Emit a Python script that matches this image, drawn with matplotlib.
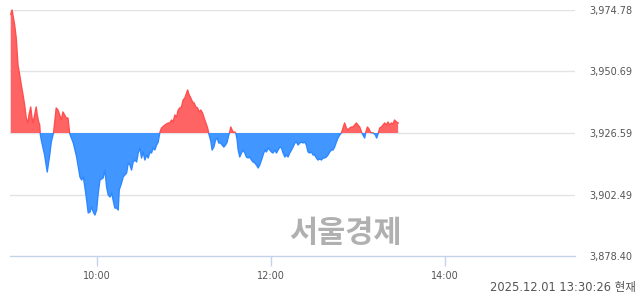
import numpy as np
import matplotlib
matplotlib.use("Agg")
import matplotlib.pyplot as plt
from matplotlib.patches import Rectangle

# minutes since 09:00
minutes = [0.5, 1.4, 3.2, 4.3, 5.5, 6.7, 7.8, 9.0, 10.1, 11.2, 12.4, 13.1, 14.3, 15.2, 15.9, 17.0,
           18.1, 18.8, 19.8, 20.5, 20.9, 21.6, 23.9, 25.7, 27.4, 28.5, 30.1, 31.9, 33.1, 34.3,
           35.4, 36.6, 37.7, 38.8, 40.0, 41.2, 43.7, 46.0, 48.3, 49.5, 50.6, 51.7, 52.9, 54.0,
           55.2, 56.3, 57.5, 58.6, 59.8, 60.9, 62.1, 64.3, 65.5, 66.7, 67.8, 69.0, 70.1, 71.2,
           72.4, 73.6, 74.7, 75.4, 77.0, 78.1, 79.3, 80.5, 81.6, 82.8, 83.9, 85.0, 86.2, 87.4,
           88.5, 89.7, 90.8, 91.9, 93.1, 94.3, 95.4, 96.6, 97.7, 98.8, 100.0, 101.2, 102.3,
           103.4, 104.6, 106.9, 109.2, 110.3, 111.5, 112.6, 113.8, 115.0, 116.1, 117.2, 118.4,
           119.5, 120.7, 121.9, 122.6, 123.7, 124.8, 126.0, 127.1, 128.3, 129.5, 130.6, 131.7,
           132.9, 134.0, 135.2, 136.4, 137.2, 138.6, 139.5, 140.7, 141.9, 143.0, 144.1, 145.3,
           146.4, 147.6, 148.8, 149.9, 151.0, 151.7, 152.4, 153.3, 154.3, 155.2, 155.9, 156.8,
           157.5, 158.6, 159.8, 160.9, 162.1, 163.2, 164.4, 165.5, 166.7, 167.8, 169.0, 170.1,
           171.3, 172.4, 173.6, 174.7, 175.9, 177.0, 178.2, 179.3, 180.5, 181.6, 182.8, 183.9,
           185.1, 186.2, 187.4, 188.5, 189.7, 190.8, 191.9, 193.1, 194.3, 195.4, 196.6, 197.7,
           198.9, 200.0, 201.2, 202.3, 203.4, 204.6, 205.7, 206.9, 208.1, 209.2, 210.3, 211.5,
           212.6, 213.8, 215.0, 216.1, 217.2, 218.4, 219.5, 220.7, 221.8, 223.0, 224.1, 225.3,
           226.4, 227.6, 228.8, 229.9, 231.0, 232.2, 233.3, 234.5, 235.7, 236.8, 237.9, 239.1,
           240.2, 241.4, 242.6, 243.7, 244.8, 245.5, 246.7, 247.8, 249.0, 250.2, 251.0, 252.2,
           253.1, 254.3, 255.2, 256.4, 257.5, 258.6, 259.8, 260.9, 262.1, 263.3, 264.4, 265.5,
           266.7, 267.9]

prices = [3973.10, 3974.78, 3968.90, 3963.81, 3953.23, 3949.31, 3945.40, 3941.48, 3937.56, 3932.47,
          3930.51, 3933.64, 3936.78, 3932.47, 3930.51, 3933.64, 3936.78, 3933.64, 3930.90, 3929.72,
          3926.20, 3923.85, 3917.97, 3911.31, 3917.97, 3923.06, 3926.80, 3936.39, 3935.60, 3933.64,
          3931.68, 3934.82, 3933.64, 3932.47, 3932.47, 3926.40, 3922.67, 3917.19, 3909.35, 3908.18,
          3909.35, 3905.43, 3900.34, 3895.25, 3895.64, 3897.60, 3895.64, 3894.46, 3896.42, 3903.08,
          3908.18, 3908.96, 3912.09, 3905.43, 3902.30, 3901.51, 3903.08, 3900.34, 3897.20, 3897.20,
          3896.42, 3904.26, 3907.00, 3909.35, 3910.13, 3910.92, 3914.84, 3914.05, 3912.09, 3915.23,
          3916.01, 3915.23, 3918.75, 3920.71, 3916.79, 3919.15, 3916.01, 3917.97, 3916.79, 3919.15,
          3918.75, 3920.71, 3919.93, 3921.89, 3923.06, 3926.70, 3928.55, 3929.72, 3930.51, 3930.51,
          3931.68, 3930.90, 3933.64, 3932.86, 3935.60, 3936.39, 3936.78, 3939.52, 3940.30, 3942.26,
          3943.44, 3941.48, 3940.30, 3938.74, 3938.34, 3936.78, 3936.39, 3934.82, 3935.60, 3934.43,
          3932.47, 3930.51, 3928.55, 3926.40, 3923.46, 3919.93, 3921.10, 3923.85, 3924.63, 3922.67,
          3922.67, 3921.89, 3921.10, 3921.89, 3923.06, 3925.81, 3927.00, 3928.94, 3927.77, 3926.80,
          3926.98, 3926.50, 3923.85, 3919.93, 3917.19, 3918.75, 3919.93, 3918.75, 3917.19, 3916.79,
          3917.19, 3916.01, 3915.23, 3914.84, 3914.05, 3912.88, 3914.05, 3916.01, 3917.97, 3919.93,
          3919.15, 3920.71, 3919.93, 3919.15, 3918.75, 3919.93, 3918.75, 3919.93, 3921.10, 3920.71,
          3918.75, 3917.19, 3917.97, 3917.19, 3918.75, 3919.93, 3921.10, 3922.67, 3923.06, 3921.89,
          3922.67, 3923.06, 3922.67, 3923.06, 3921.89, 3919.15, 3918.75, 3919.15, 3917.97, 3917.97,
          3916.79, 3916.01, 3916.40, 3916.01, 3916.79, 3916.79, 3917.19, 3917.97, 3919.15, 3919.93,
          3919.93, 3921.10, 3923.06, 3924.63, 3925.81, 3926.70, 3928.55, 3930.51, 3928.55, 3927.77,
          3928.55, 3928.94, 3928.94, 3929.72, 3930.51, 3929.72, 3928.94, 3926.98, 3925.81, 3924.63,
          3926.70, 3928.94, 3928.16, 3926.70, 3926.70, 3926.50, 3925.81, 3924.63, 3926.70, 3928.55,
          3928.94, 3929.72, 3930.51, 3929.72, 3930.90, 3929.72, 3930.51, 3930.12, 3931.68, 3930.90,
          3930.51]

base_value = 3926.59
y_ticks = [3878.40, 3902.49, 3926.59, 3950.69, 3974.78]
x_tick_minutes = [60, 180, 300]
x_tick_labels = ["10:00", "12:00", "14:00"]
watermark = "서울경제"
timestamp = "2025.12.01 13:30:26 현재"

plt.rcParams['font.family'] = ['DejaVu Sans', 'Noto Sans CJK KR']

fig = plt.figure(figsize=(6.4, 2.94), dpi=100)
ax = fig.add_axes([10 / 640, 38 / 294, 565 / 640, 246 / 294])

t = np.array(minutes)
v = np.array(prices)

red_fill = '#ff6464'
blue_fill = '#4197ff'

# gridlines
for yt in y_ticks[1:]:
    ax.axhline(yt, color='#e3e3e3', lw=1.0, zorder=0)

ax.fill_between(t, v, base_value, where=v >= base_value, interpolate=True,
                color=red_fill, lw=0, zorder=2)
ax.fill_between(t, v, base_value, where=v <= base_value, interpolate=True,
                color=blue_fill, lw=0, zorder=2)

l1, = ax.plot(t, v, color='#ff4e4e', lw=1.0, zorder=3)
l2, = ax.plot(t, v, color='#2f88ff', lw=1.0, zorder=3)
r_up = Rectangle((0, base_value), 400, 200, transform=ax.transData)
r_dn = Rectangle((0, base_value - 200), 400, 200, transform=ax.transData)
l1.set_clip_path(r_up)
l2.set_clip_path(r_dn)

ax.set_xlim(0, 390)
ax.set_ylim(y_ticks[0], y_ticks[-1])

for s in ['top', 'left', 'right']:
    ax.spines[s].set_visible(False)
ax.spines['bottom'].set_color('#c5d3ea')
ax.spines['bottom'].set_linewidth(1.0)

ax.set_xticks(x_tick_minutes)
ax.set_xticklabels(x_tick_labels)
ax.tick_params(axis='x', length=7, width=1, color='#c5d3ea', pad=4,
               labelsize=7, labelcolor='#555555')

ax.yaxis.tick_right()
ax.set_yticks(y_ticks)
ax.set_yticklabels([f"{y:,.2f}" for y in y_ticks])
ax.tick_params(axis='y', length=0, pad=10, labelsize=7, labelcolor='#555555')

fig.text(345 / 640, 1 - 233 / 294, watermark, fontsize=22, fontweight='bold',
         color='#b0b0b0', ha='center', va='center', family=['Noto Sans CJK KR'])
fig.text(636 / 640, 1 - 287 / 294, timestamp, fontsize=8.3, color='#555555',
         ha='right', va='center', family=['DejaVu Sans', 'Noto Sans CJK KR'])

fig.savefig('out.png', dpi=100)
